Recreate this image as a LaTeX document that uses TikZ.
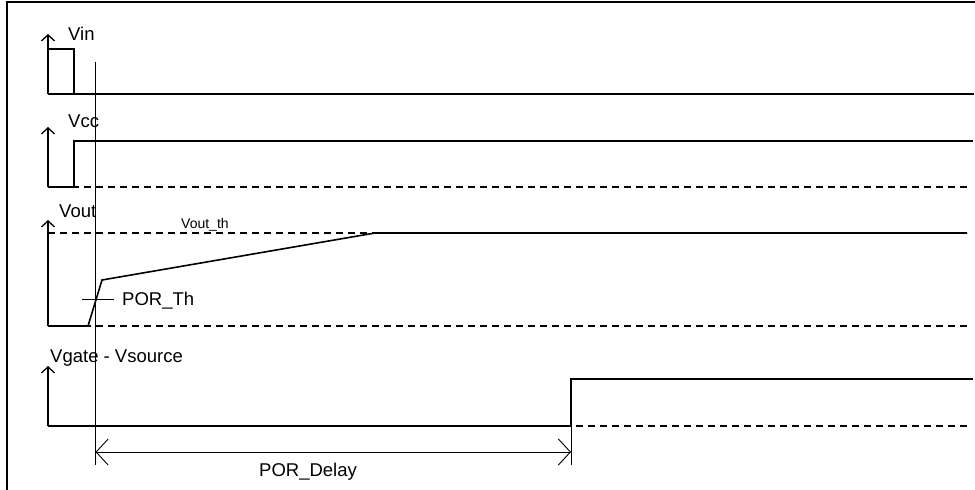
\documentclass[tikz,border=0pt]{standalone}
\usepackage{fontspec}
\setmainfont{Liberation Sans}
\usetikzlibrary{arrows.meta}
\begin{document}
\begin{tikzpicture}[x=1pt,y=-1pt,
  sig/.style={line width=1.6pt, line join=miter},
  base/.style={line width=1.6pt, dash pattern=on 7pt off 5pt},
  thin/.style={line width=0.9pt},
  axis/.style={line width=1.6pt, -{Straight Barb[length=6pt,width=13pt,line width=1.3pt]}},
  dim/.style={line width=0.9pt, {Straight Barb[length=12pt,width=26pt,line width=0.9pt]}-{Straight Barb[length=12pt,width=26pt,line width=0.9pt]}},
  lbl/.style={inner sep=0pt, anchor=base west, font=\fontsize{18.5}{20}\selectfont},
  slbl/.style={inner sep=0pt, anchor=base west, font=\fontsize{14}{16}\selectfont}]
\useasboundingbox (0,0) rectangle (975,490);
% frame
\draw[line width=1.2pt] (7,490) -- (7,2) -- (975,2);
% coordinates
\coordinate (vinO) at (48,94);   \coordinate (vinT) at (48,34);
\coordinate (vccO) at (48,187);  \coordinate (vccT) at (48,127);
\coordinate (voO) at (48,326);   \coordinate (voT) at (48,220);
\coordinate (vgO) at (48,426);   \coordinate (vgT) at (48,366);
% dashed baselines
\draw[base] (vinO) -- (968,94);
\draw[base] (vccO) -- (968,187);
\draw[base] (voO) -- (968,326);
\draw[base] (48,233) -- (968,233);
\draw[base] (vgO) -- (968,426);
% axes
\draw[axis] (vinO) -- (vinT);
\draw[axis] (vccO) -- (vccT);
\draw[axis] (voO) -- (voT);
\draw[axis] (vgO) -- (vgT);
% signals
\draw[sig] (48,49) -- (74,49) -- (74,94);
\draw[sig] (vinO) -- (974,94);
\draw[sig] (vccO) -- (74,187) -- (74,141) -- (973,141);
\draw[sig] (voO) -- (88,326) -- (102,280) -- (375,233) -- (967,233);
\draw[sig] (vgO) -- (571,426) -- (571,379) -- (973,379);
% markers
\coordinate (m1t) at (95.5,62); \coordinate (m1b) at (95.5,465);
\coordinate (m2t) at (571,379); \coordinate (m2b) at (571,465);
\draw[thin] (m1t) -- (m1b);
\draw[thin] (m2t) -- (m2b);
\coordinate (d1) at (95.5,452); \coordinate (d2) at (571,452);
\draw[dim] (d1) -- (d2);
% POR_Th tick
\coordinate (th1) at (82,299); \coordinate (th2) at (114,299);
\draw[thin] (th1) -- (th2);
% labels
\node[lbl] (lvin) at (68,40) {Vin};
\node[lbl] (lvcc) at (68,127) {Vcc};
\node[lbl] (lvout) at (59,217) {Vout};
\node[lbl] (lvg) at (50,362) {Vgate - Vsource};
\node[lbl] (lth) at (122,305) {POR\_Th};
\node[slbl] (lvth) at (181,228) {Vout\_th};
\node[lbl] (ldel) at (259,476) {POR\_Delay};
\end{tikzpicture}
\end{document}
